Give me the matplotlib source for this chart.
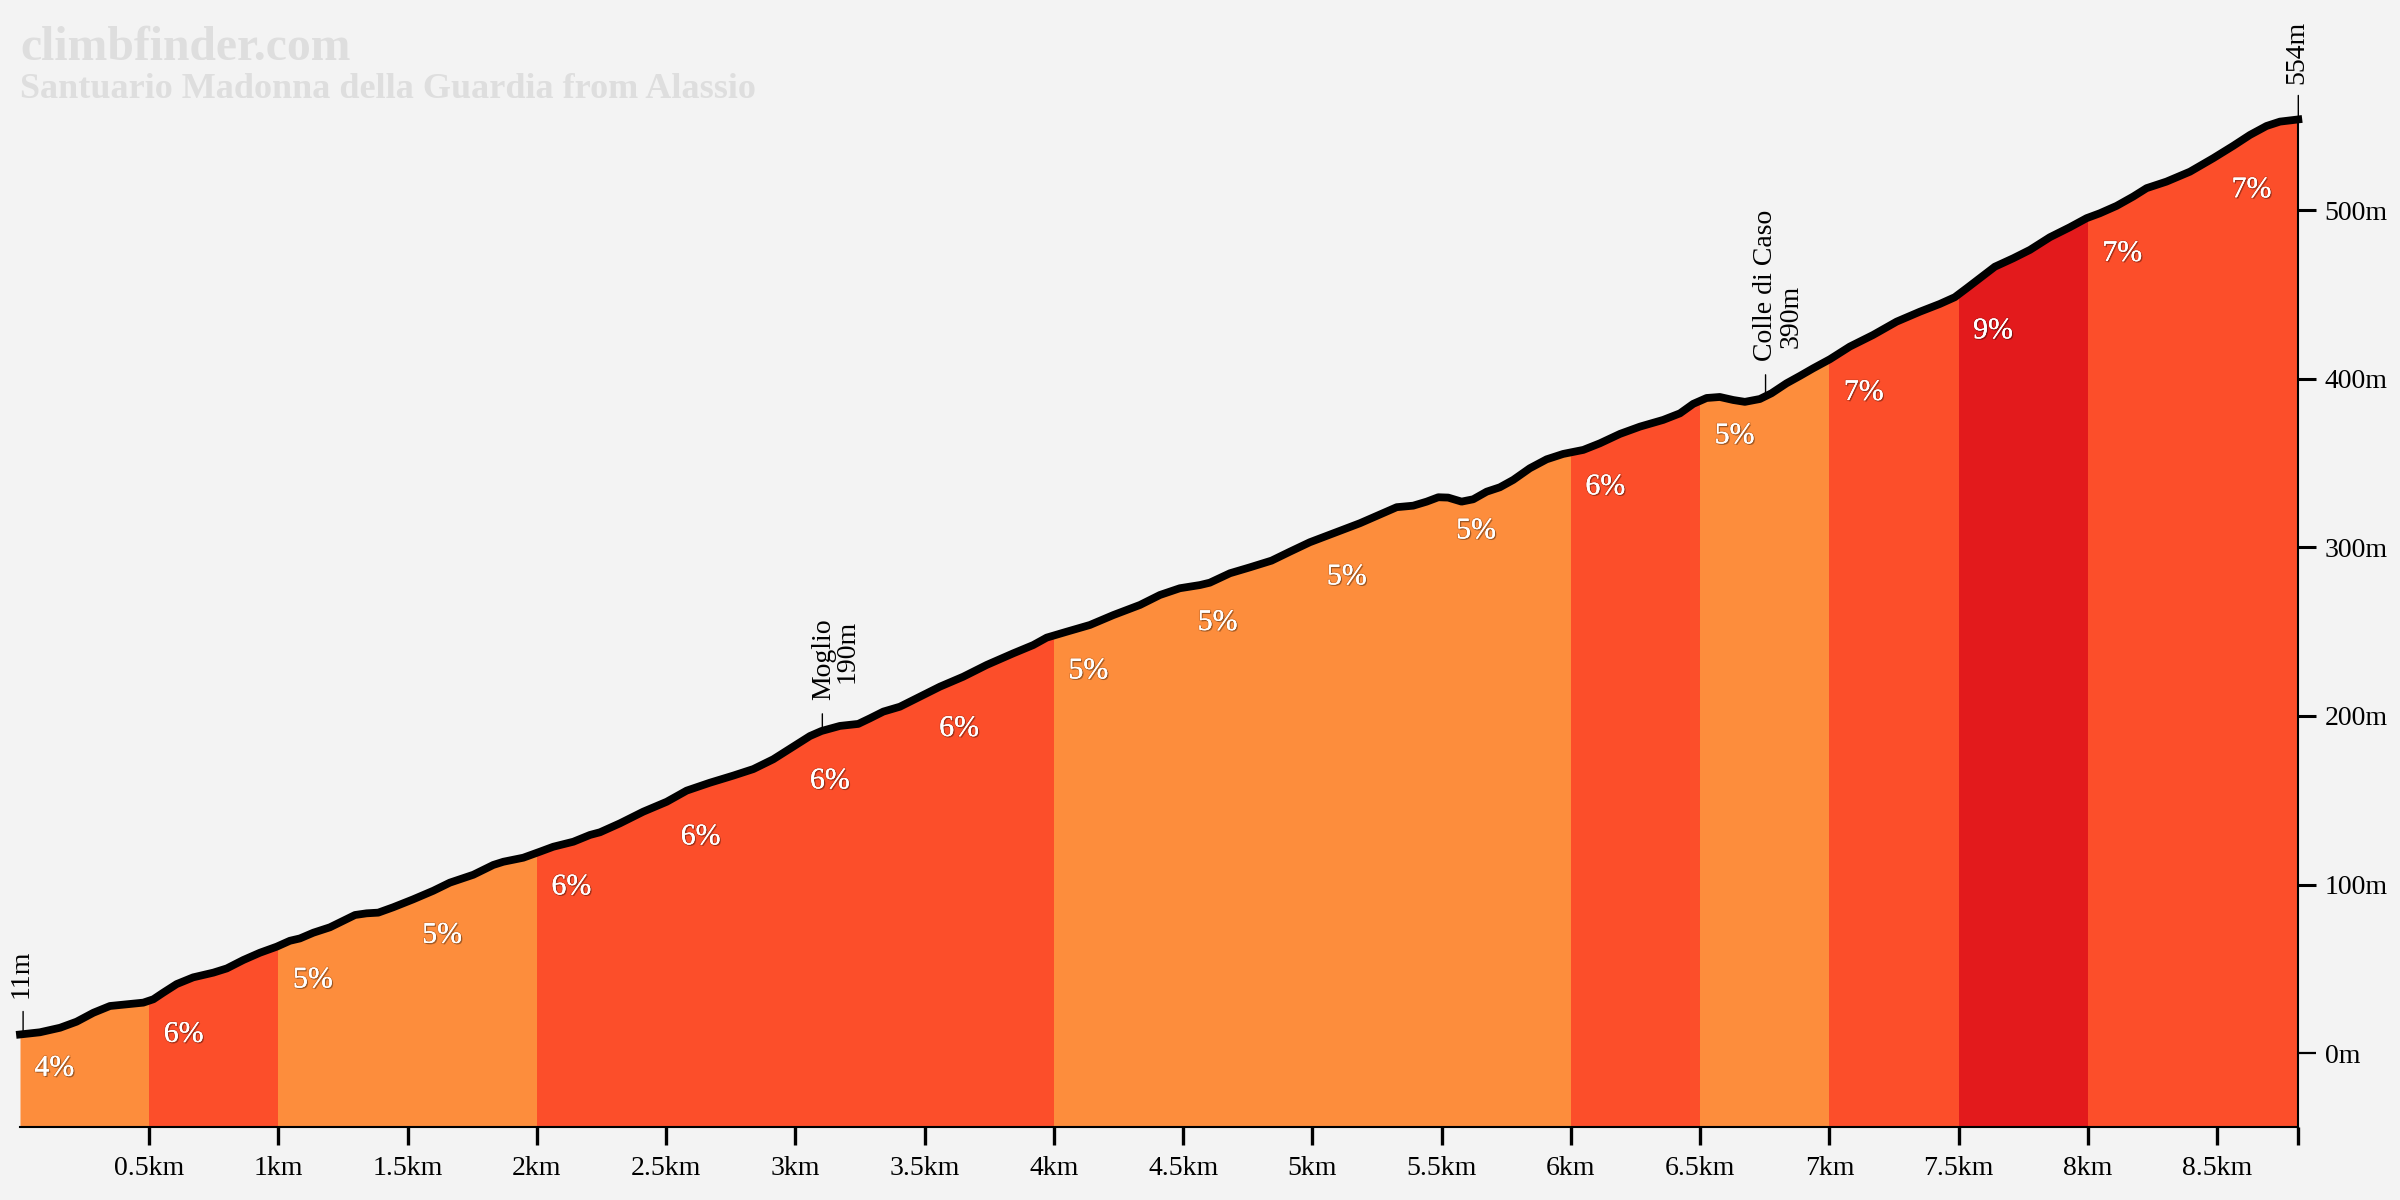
import numpy as np
import matplotlib
matplotlib.use('Agg')
import matplotlib.pyplot as plt
import matplotlib.patheffects as pe
from matplotlib.patches import Rectangle

plt.rcParams['font.family'] = ['Liberation Serif', 'DejaVu Serif']

distance_km = np.array([
    0.000, 0.077, 0.155, 0.219, 0.284, 0.348, 0.413, 0.477, 0.516, 0.554, 0.606, 0.670, 0.748, 0.800, 0.864, 0.928,
    0.993, 1.044, 1.083, 1.135, 1.199, 1.251, 1.296, 1.341, 1.386, 1.444, 1.521, 1.599, 1.663, 1.754, 1.831, 1.870,
    1.947, 2.012, 2.063, 2.141, 2.205, 2.244, 2.321, 2.411, 2.502, 2.579, 2.669, 2.759, 2.837, 2.914, 2.991, 3.056,
    3.101, 3.172, 3.243, 3.288, 3.340, 3.404, 3.469, 3.559, 3.649, 3.740, 3.843, 3.920, 3.972, 4.049, 4.139, 4.230,
    4.333, 4.410, 4.487, 4.565, 4.603, 4.681, 4.758, 4.842, 4.913, 4.990, 5.081, 5.184, 5.248, 5.326, 5.390, 5.442,
    5.487, 5.525, 5.577, 5.622, 5.674, 5.725, 5.777, 5.841, 5.906, 5.970, 6.048, 6.112, 6.190, 6.267, 6.357, 6.422,
    6.473, 6.525, 6.576, 6.628, 6.673, 6.731, 6.776, 6.834, 6.886, 6.937, 7.002, 7.079, 7.169, 7.260, 7.350, 7.427,
    7.485, 7.531, 7.582, 7.640, 7.711, 7.776, 7.853, 7.930, 7.995, 8.046, 8.111, 8.175, 8.227, 8.304, 8.395, 8.485,
    8.562, 8.627, 8.691, 8.743, 8.814])
elevation_m = np.array([
    11.0, 12.3, 15.0, 18.6, 23.9, 27.9, 28.9, 29.9, 31.9, 35.8, 40.9, 44.9, 47.7, 50.2, 55.2, 59.5,
    63.1, 66.6, 68.0, 71.4, 74.6, 78.5, 81.9, 82.9, 83.3, 86.5, 91.2, 96.3, 101.1, 105.8, 111.6, 113.5,
    115.9, 119.5, 122.4, 125.4, 129.4, 131.0, 136.3, 143.2, 149.1, 155.7, 160.4, 164.6, 168.5, 174.3, 181.8, 188.1,
    191.1, 194.1, 195.3, 198.6, 202.6, 205.5, 210.5, 217.4, 223.3, 230.3, 237.2, 242.1, 246.5, 250.0, 254.0, 259.9,
    265.9, 271.8, 275.8, 277.7, 279.1, 284.7, 288.2, 292.2, 297.5, 303.1, 308.4, 314.4, 318.7, 323.9, 324.8, 327.2,
    329.8, 329.6, 327.2, 328.6, 333.1, 335.7, 340.1, 347.0, 352.3, 355.5, 357.9, 361.8, 367.4, 371.7, 375.7, 379.6,
    385.2, 388.7, 389.3, 387.5, 386.4, 388.1, 391.5, 397.4, 401.8, 406.3, 411.7, 419.2, 426.1, 434.0, 439.9, 444.5,
    448.5, 453.8, 459.8, 466.6, 471.6, 476.6, 484.1, 490.0, 495.4, 498.3, 502.7, 508.2, 513.2, 517.1, 523.0, 531.0,
    538.3, 544.8, 550.1, 552.7, 554.0])

segment_starts = [0, 0.5, 1, 1.5, 2, 2.5, 3, 3.5, 4, 4.5, 5, 5.5, 6, 6.5, 7, 7.5, 8, 8.5]
segment_grades = [4, 6, 5, 5, 6, 6, 6, 6, 5, 5, 5, 5, 6, 5, 7, 9, 7, 7]
grade_label_elev = [-9.3, 10.8, 43.1, 69.6, 98.3, 128.0, 161.2, 192.3, 226.5, 255.2, 282.3, 309.6,
                    335.7, 366.0, 391.7, 428.3, 474.2, 512.0]

x_ticks = [0.5, 1, 1.5, 2, 2.5, 3, 3.5, 4, 4.5, 5, 5.5, 6, 6.5, 7, 7.5, 8, 8.5]
x_tick_labels = ['0.5km', '1km', '1.5km', '2km', '2.5km', '3km', '3.5km', '4km', '4.5km', '5km', '5.5km',
                 '6km', '6.5km', '7km', '7.5km', '8km', '8.5km']
y_ticks = [0, 100, 200, 300, 400, 500]
y_tick_labels = ['0m', '100m', '200m', '300m', '400m', '500m']

title_text = 'climbfinder.com'
subtitle_text = 'Santuario Madonna della Guardia from Alassio'

waypoint_names = ['11m', 'Moglio\n190m', 'Colle di Caso\n390m', '554m']
waypoint_km = [0.012, 3.104, 6.753, 8.814]
waypoint_elev = [11, 190, 390, 554]

BG = '#f3f3f3'
GREY = '#dedede'


def grade_colour(g):
    if g <= 5:
        return '#fd8d3c'
    if g <= 7:
        return '#fc4e2a'
    return '#e31a1c'


W, H = 2400, 1200
fig = plt.figure(figsize=(24, 12), dpi=100, facecolor=BG)
L, R, B, T = 20, 2298.3, 1127, 20
ax = fig.add_axes([L / W, 1 - B / H, (R - L) / W, (B - T) / H], facecolor=BG)
y_lo = -43.9
y_hi = 613.0
x_hi = 8.814
ax.set_xlim(0, x_hi)
ax.set_ylim(y_lo, y_hi)

ends = segment_starts[1:] + [x_hi]
for a, b, g in zip(segment_starts, ends, segment_grades):
    poly = ax.fill_between(distance_km, elevation_m, y_lo, color=grade_colour(g), lw=0, zorder=1)
    poly.set_clip_path(Rectangle((a, y_lo), b - a, y_hi - y_lo, transform=ax.transData))

ax.plot(distance_km, elevation_m, color='black', lw=5.6, solid_capstyle='projecting', solid_joinstyle='round',
        zorder=4, clip_on=False)

shadow = [pe.SimplePatchShadow(offset=(1, -1), shadow_rgbFace='black', alpha=0.3),
          pe.withStroke(linewidth=1.6, foreground=(0, 0, 0, 0.12)), pe.Normal()]
for a, g, e in zip(segment_starts, segment_grades, grade_label_elev):
    ax.text(a + 0.133, e, f'{g}%', color='white', fontsize=21.5, ha='center', va='center', zorder=5,
            path_effects=shadow)

for s in ['top', 'left']:
    ax.spines[s].set_visible(False)
ax.spines['bottom'].set_linewidth(1.5)
ax.spines['right'].set_linewidth(1.5)
ax.spines['right'].set_bounds(y_lo, 554)
for s in ax.spines.values():
    s.set_zorder(3)

ax.set_xticks(x_ticks + [x_hi], x_tick_labels + [''])
ax.yaxis.tick_right()
ax.set_yticks(y_ticks, y_tick_labels)
ax.tick_params(axis='x', length=13, width=2.4, labelsize=20, pad=8, colors='black')
ax.tick_params(axis='y', length=13, width=2.2, labelsize=20, pad=6, colors='black')
zero_tick = ax.yaxis.get_major_ticks()[0]
zero_tick.tick2line.set_color('#bbbbbb')
zero_tick.tick2line.set_markeredgewidth(1.6)

leader_top = {0: 23, 1: 19, 2: 21, 3: 24}
offs = {
    0: [(-2, 36)],
    1: [(1, 33), (25, 50)],
    2: [(0, 35), (26, 48)],
    3: [(-1, 35)],
}
for i, (nm, k, e) in enumerate(zip(waypoint_names, waypoint_km, waypoint_elev)):
    ax.annotate('', xy=(k, e), xytext=(0, leader_top[i]), textcoords='offset pixels',
                arrowprops=dict(arrowstyle='-', lw=1.0, color='black', shrinkA=0, shrinkB=0), zorder=2,
                annotation_clip=False)
    for line, (dx, dy) in zip(nm.split('\n'), offs[i]):
        ax.annotate(line, xy=(k, e), xytext=(dx, dy), textcoords='offset pixels', rotation=90,
                    ha='center', va='bottom', fontsize=20, color='black', annotation_clip=False)

fig.text(20 / W, 1 - 60 / H, title_text, color=GREY, fontsize=34.3, fontweight='bold', ha='left', va='baseline')
fig.text(20 / W, 1 - 98 / H, subtitle_text, color=GREY, fontsize=26, fontweight='bold', ha='left', va='baseline')

fig.savefig('out.png', dpi=100, facecolor=BG)
